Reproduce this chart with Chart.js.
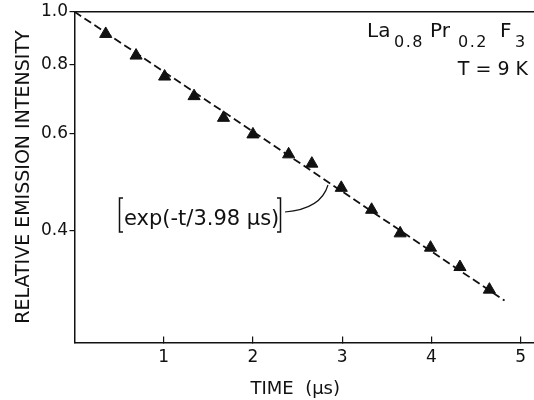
<!DOCTYPE html>
<html>
<head>
<meta charset="utf-8">
<script src="https://cdn.jsdelivr.net/npm/chart.js@4"></script>
<style>
  html, body { margin: 0; padding: 0; background: #fff; }
  #wrap { width: 534px; height: 400px; position: relative; }
</style>
</head>
<body>
<div id="wrap"><canvas id="c" width="534" height="400"></canvas></div>
<script>
// ---- data ----
const timeUs = [0.35, 0.69, 1.01, 1.34, 1.67, 2.00, 2.40, 2.66, 2.99, 3.33, 3.65, 3.99, 4.32, 4.65];
const intensity = [0.911, 0.832, 0.762, 0.702, 0.641, 0.598, 0.550, 0.529, 0.478, 0.436, 0.395, 0.372, 0.343, 0.312];
const fitTime = [0, 4.82];
const fitIntensity = [1.0, 0.298];
const xTickValues = [1, 2, 3, 4, 5];
const yTickValues = [0.4, 0.6, 0.8, 1.0];
const yTickLabels = ['0.4', '0.6', '0.8', '1.0'];

const INK = '#111';
const FONT = "'DejaVu Sans', sans-serif";

const points = timeUs.map((t, i) => ({ x: t, y: intensity[i] }));
const fitLine = fitTime.map((t, i) => ({ x: t, y: fitIntensity[i] }));

const annotations = {
  id: 'annotations',
  afterDraw(chart) {
    const ctx = chart.ctx;
    const a = chart.chartArea;
    ctx.save();
    // top frame line
    ctx.strokeStyle = INK;
    ctx.lineWidth = 1.5;
    ctx.beginPath();
    ctx.moveTo(a.left, a.top);
    ctx.lineTo(chart.width, a.top);
    ctx.stroke();

    ctx.fillStyle = INK;
    ctx.textBaseline = 'alphabetic';
    ctx.textAlign = 'left';
    // compound formula
    const big = '20px ' + FONT, small = '16px ' + FONT;
    const hasLS = ('letterSpacing' in ctx);
    const sub = (txt, x, y) => {
      ctx.font = small;
      if (hasLS) ctx.letterSpacing = '1.5px';
      ctx.fillText(txt, x, y);
      if (hasLS) ctx.letterSpacing = '0px';
    };
    ctx.font = big;  ctx.fillText('La', 367, 37);
    sub('0.8', 394, 47);
    ctx.font = big;  ctx.fillText('Pr', 430, 37);
    sub('0.2', 458, 47);
    ctx.font = big;  ctx.fillText('F', 500, 37);
    sub('3', 515, 47);
    // temperature
    ctx.font = '19px ' + FONT;
    ctx.textAlign = 'right';
    ctx.fillText('T = 9 K', 528, 75);

    // fit formula with brackets
    ctx.textAlign = 'left';
    ctx.font = '21px ' + FONT;
    ctx.fillText('exp(-t/3.98 \u03bcs)', 124, 225);
    ctx.lineWidth = 1.5;
    ctx.beginPath();
    ctx.moveTo(123, 198); ctx.lineTo(119.5, 198); ctx.lineTo(119.5, 232); ctx.lineTo(123, 232);
    ctx.moveTo(277, 198); ctx.lineTo(280.5, 198); ctx.lineTo(280.5, 232); ctx.lineTo(277, 232);
    ctx.stroke();
    // leader curve
    ctx.lineWidth = 1.2;
    ctx.beginPath();
    ctx.moveTo(285, 212);
    ctx.quadraticCurveTo(321, 209, 328, 185);
    ctx.stroke();
    ctx.restore();
  }
};

new Chart(document.getElementById('c'), {
  type: 'scatter',
  data: {
    datasets: [
      {
        label: 'data',
        data: points,
        pointStyle: 'triangle',
        pointRadius: 7,
        pointHoverRadius: 7,
        backgroundColor: INK,
        borderColor: INK,
        borderWidth: 1,
        showLine: false,
        order: 0
      },
      {
        label: 'fit',
        data: fitLine,
        showLine: true,
        pointRadius: 0,
        borderColor: INK,
        borderWidth: 1.8,
        borderDash: [8, 4],
        fill: false,
        order: 1
      }
    ]
  },
  options: {
    responsive: false,
    animation: false,
    events: [],
    layout: { autoPadding: false, padding: { top: 11, right: 0, left: 0, bottom: 0 } },
    plugins: { legend: { display: false }, tooltip: { enabled: false } },
    scales: {
      x: {
        type: 'linear',
        min: 0,
        max: 5.15,
        afterBuildTicks(scale) { scale.ticks = xTickValues.map(v => ({ value: v })); },
        afterFit(scale) { scale.height = 57.5; scale.paddingLeft = 0; scale.paddingRight = 0; },
        grid: { display: true, drawOnChartArea: false, drawTicks: true, tickLength: -6, color: INK, lineWidth: 1.2 },
        border: { display: true, color: INK, width: 1.5 },
        ticks: { color: INK, font: { family: FONT, size: 17, lineHeight: 2.0 }, padding: 4, maxRotation: 0, autoSkip: false,
                  callback: v => String(v) },
        title: { display: true, text: 'TIME  (\u03bcs)\u2002\u2002', color: INK,
                 font: { family: FONT, size: 18 }, padding: { top: 0, bottom: 0 } }
      },
      y: {
        type: 'logarithmic',
        min: 0.25,
        max: 1.0,
        afterBuildTicks(scale) { scale.ticks = yTickValues.map(v => ({ value: v })); },
        afterFit(scale) { scale.width = 74.5; },
        grid: { display: true, drawOnChartArea: false, drawTicks: true, tickLength: 5, color: INK, lineWidth: 1.2 },
        border: { display: true, color: INK, width: 1.5 },
        ticks: { color: INK, font: { family: FONT, size: 17 }, padding: 1.5, autoSkip: false,
                 callback: (v) => { const i = yTickValues.indexOf(v); return i >= 0 ? yTickLabels[i] : ''; } },
        title: { display: true, text: 'RELATIVE EMISSION INTENSITY', color: INK,
                 font: { family: FONT, size: 19 }, padding: { top: 13, bottom: 0 } }
      }
    }
  },
  plugins: [annotations]
});
</script>
</body>
</html>
